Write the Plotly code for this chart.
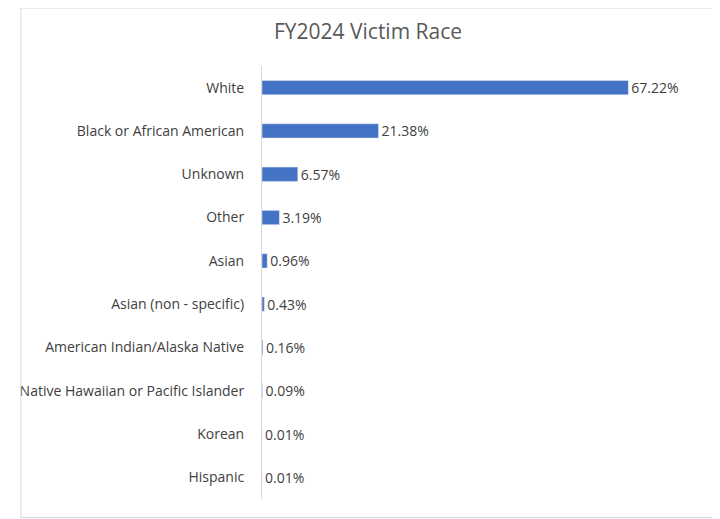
import plotly.graph_objects as go

categories = ["White", "Black or African American", "Unknown", "Other", "Asian",
              "Asian (non - specific)", "American Indian/Alaska Native",
              "Native Hawaiian or Pacific Islander", "Korean", "Hispanic"]
values = [67.22, 21.38, 6.57, 3.19, 0.96, 0.43, 0.16, 0.09, 0.01, 0.01]
labels = [f"{v:.2f}%" for v in values]

fig = go.Figure(go.Bar(
    y=categories, x=values, orientation="h", width=0.33,
    marker_color="#4472C4", text=labels, textposition="outside",
    constraintext="none",
    textfont=dict(size=14, color="#404040"), cliponaxis=False))

fig.update_layout(
    width=720, height=519, paper_bgcolor="white", plot_bgcolor="white",
    margin=dict(l=246, r=30, t=58, b=28),
    font=dict(family="Open Sans, sans-serif", size=14, color="#404040"),
    uniformtext=dict(minsize=14, mode="show"),
    title=dict(text="FY2024 Victim Race", x=0.5, xanchor="center", y=0.955,
               yanchor="middle", font=dict(size=21, color="#595959")),
    xaxis=dict(range=[0, 80], visible=False),
    yaxis=dict(autorange="reversed", showline=True, linecolor="#d9d9d9",
               ticks="", ticklabelstandoff=14, showgrid=False),
    showlegend=False, bargap=0.67,
    shapes=[dict(type="rect", xref="paper", yref="paper",
                 x0=-0.553, x1=1.045, y0=-0.043, y1=1.134,
                 line=dict(color="#d9d9d9", width=1))],
)
fig.write_html("out.html")
